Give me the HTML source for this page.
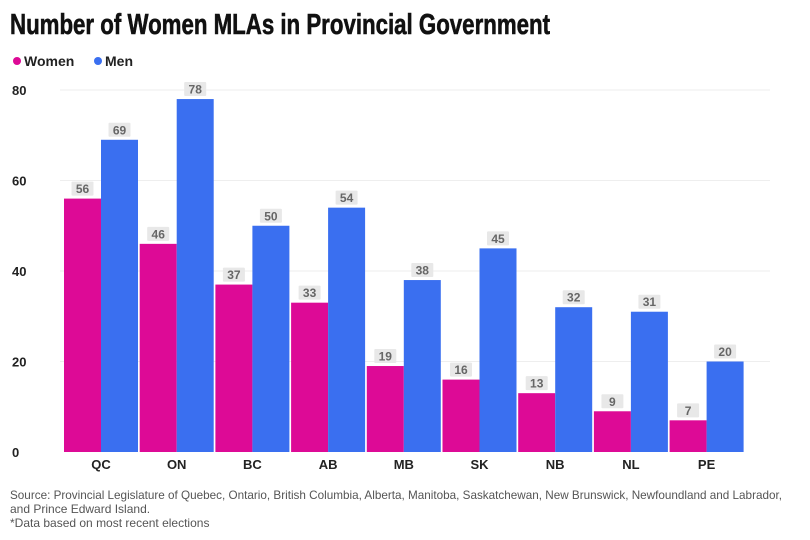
<!DOCTYPE html>
<html><head><meta charset="utf-8"><style>
body{margin:0;background:#fff;}
svg{display:block;font-family:"Liberation Sans",sans-serif;}
</style></head><body>
<svg id="chart" width="810" height="540" viewBox="0 0 810 540">
<text x="10" y="34" font-size="29" font-weight="bold" fill="#111" stroke="#111" stroke-width="0.6" textLength="540" lengthAdjust="spacingAndGlyphs">Number of Women MLAs in Provincial Government</text>
<g>
<g><circle cx="17" cy="61" r="4" fill="#dd0a96"/><text x="24" y="66" font-size="14" font-weight="bold" fill="#222">Women</text></g>
<g><circle cx="98" cy="61" r="4" fill="#3a6ff0"/><text x="105" y="66" font-size="14" font-weight="bold" fill="#222">Men</text></g>
</g>
<g id="grid"></g>
<g id="yaxis"></g>
<g id="bars"></g>
<g id="xaxis"></g>
<g font-size="12" fill="#555">
<text x="10" y="499" textLength="772" lengthAdjust="spacingAndGlyphs">Source: Provincial Legislature of Quebec, Ontario, British Columbia, Alberta, Manitoba, Saskatchewan, New Brunswick, Newfoundland and Labrador,</text>
<text x="10" y="513">and Prince Edward Island.</text>
<text x="10" y="527">*Data based on most recent elections</text>
</g>
</svg>
<script>
const categories=["QC","ON","BC","AB","MB","SK","NB","NL","PE"];
const women=[56,46,37,33,19,16,13,9,7];
const men=[69,78,50,54,38,45,32,31,20];
const yTicks=[0,20,40,60,80];
const NS="http://www.w3.org/2000/svg";
const x0=64,groupW=75.7,barW=37,y0=452,pxPer=362/80;
const y=v=>y0-v*pxPer;
const gx=i=>x0+i*groupW;
function mk(tag,attrs,parent){const e=document.createElementNS(NS,tag);for(const k in attrs)e.setAttribute(k,attrs[k]);parent.appendChild(e);return e;}
const grid=document.getElementById('grid'),yax=document.getElementById('yaxis'),bars=document.getElementById('bars'),xax=document.getElementById('xaxis');
yTicks.forEach(t=>{
 if(t>0){const l=mk('line',{x1:60,x2:770,y1:y(t),y2:y(t),stroke:'#eee','stroke-width':1},grid);
 
 }
 const tx=mk('text',{x:12,y:y(t)+5,'font-size':13,'font-weight':'bold',fill:'#222'},yax);tx.textContent=t;
 
 
});
function bar(v,x,color,name){
 const r=mk('rect',{x:x,y:y(v),width:barW,height:y0-y(v),fill:color},bars);
 
 
 const cx=x+barW/2,ty=y(v)-7;
 const b=mk('rect',{x:cx-11,y:ty-10,width:22,height:14,fill:'#e8e8e8',rx:1},bars);
 
 
 const t=mk('text',{x:cx,y:ty+1.5,'font-size':12,'font-weight':'bold',fill:'#666','text-anchor':'middle'},bars);t.textContent=v;
 
 
}
categories.forEach((c,i)=>{
 bar(women[i],gx(i),'#dd0a96','bar-women-'+c.toLowerCase());
 bar(men[i],gx(i)+barW,'#3a6ff0','bar-men-'+c.toLowerCase());
 const t=mk('text',{x:gx(i)+barW,y:469,'font-size':13,'font-weight':'bold',fill:'#222','text-anchor':'middle'},xax);t.textContent=c;
 
 
});
</script>
</body></html>
